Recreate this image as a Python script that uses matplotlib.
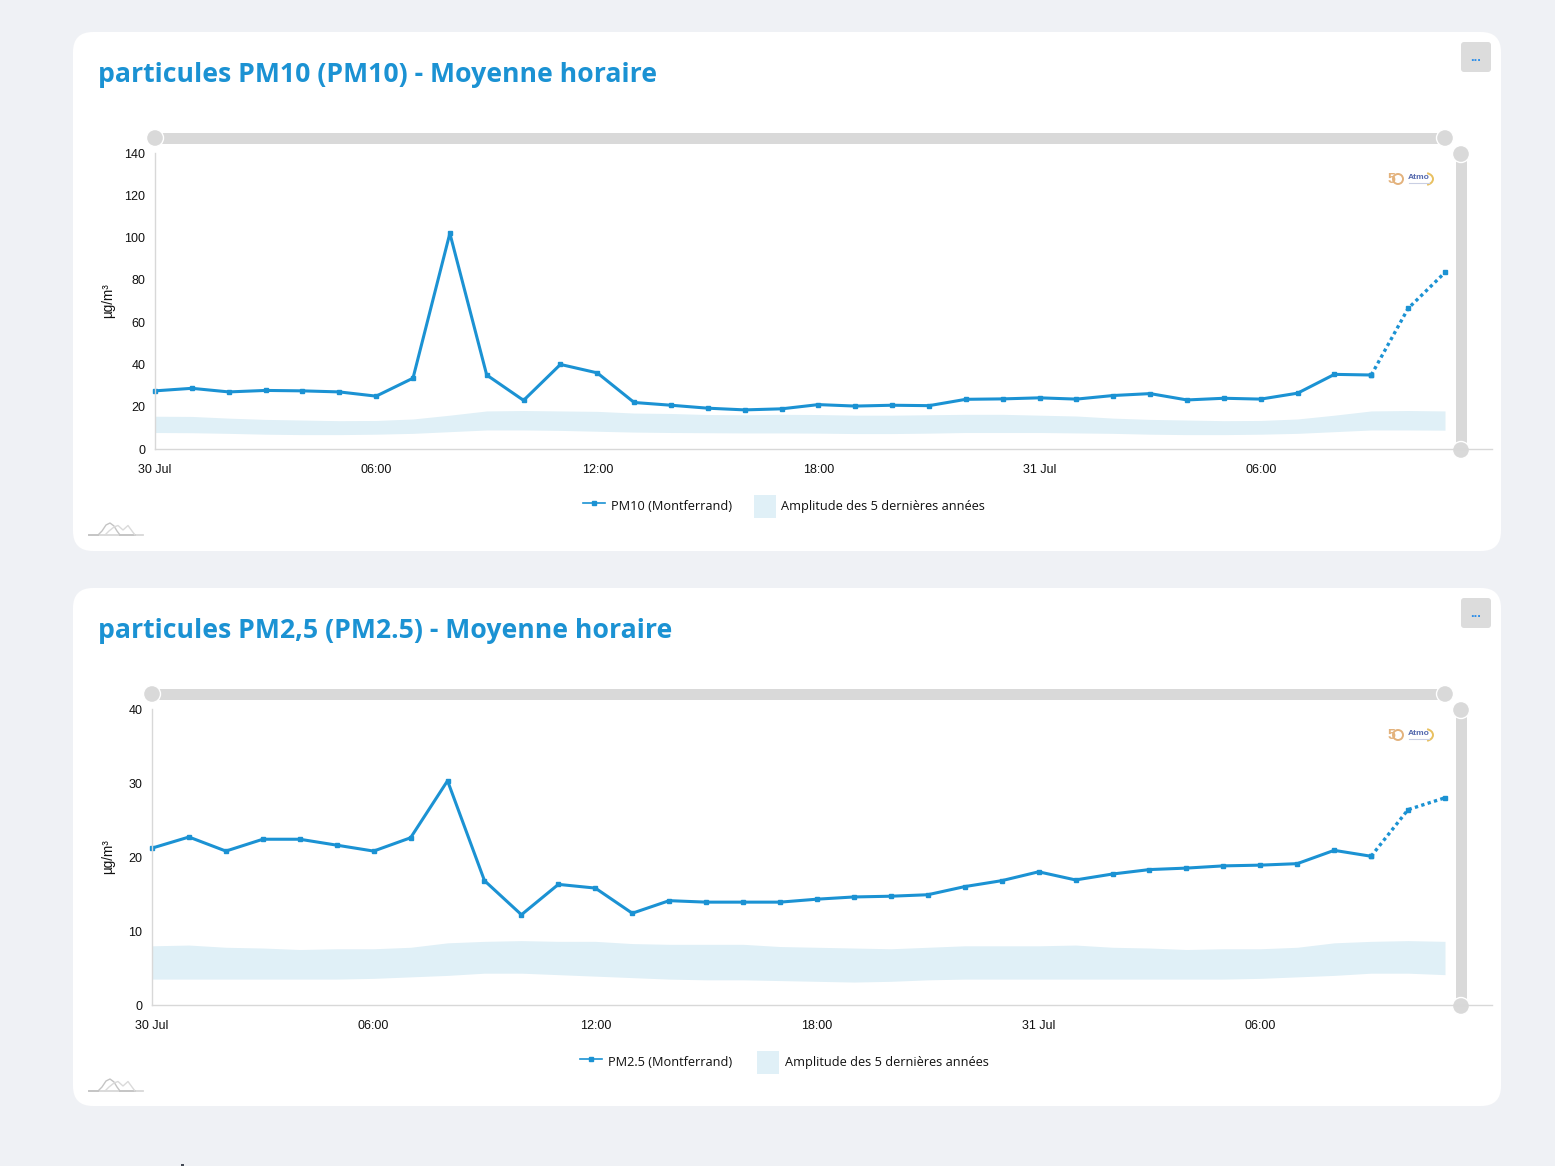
import matplotlib
matplotlib.use("Agg")
import matplotlib.pyplot as plt
from matplotlib.lines import Line2D
from matplotlib.patches import Arc, Circle, FancyBboxPatch, Patch, Rectangle

W, H = 1555, 1166
BLUE = "#1b92d3"
BAND = "#e0f0f7"
PAGE = "#eff1f5"
SLIDER = "#d9d9d9"
TITLE_FONT = ["Open Sans", "DejaVu Sans"]
LEGEND_FONT = ["Open Sans", "DejaVu Sans"]
TICK_FONT = ["Liberation Sans", "DejaVu Sans"]

hours = list(range(36))
x_tick_positions = [0, 6, 12, 18, 24, 30]
x_tick_labels = ["30 Jul", "06:00", "12:00", "18:00", "31 Jul", "06:00"]

pm10_values = [27.5, 28.7, 27, 27.7, 27.5, 27, 25, 33.5, 102, 35, 23, 40, 36, 22, 20.7, 19.3, 18.5, 19,
               21, 20.3, 20.7, 20.5, 23.5, 23.7, 24.2, 23.6, 25.3, 26.2, 23.2, 24, 23.6, 26.4, 35.3, 35, 66.5, 83.5]
pm10_upper = [15.5, 15.4, 14.6, 14, 13.7, 13.4, 13.5, 14.2, 16, 18, 18.2, 18, 17.8, 17, 16.8, 16.3, 16.2, 16.4,
              16.3, 16, 16, 16.2, 16.4, 16.4, 16, 15.6, 14.6, 14, 13.7, 13.4, 13.5, 14.2, 16, 18, 18.2, 18]
pm10_lower = [7.8, 7.7, 7.4, 7, 6.8, 6.8, 7, 7.4, 8.2, 9, 9, 8.8, 8.4, 8, 7.8, 7.7, 7.6, 7.6,
              7.5, 7.3, 7.3, 7.5, 7.8, 7.8, 7.8, 7.6, 7.4, 7, 6.8, 6.8, 7, 7.4, 8.2, 9, 9, 8.9]

pm25_values = [21.2, 22.7, 20.8, 22.4, 22.4, 21.6, 20.8, 22.6, 30.3, 16.8, 12.2, 16.3, 15.8, 12.4, 14.1, 13.9, 13.9, 13.9,
               14.3, 14.6, 14.7, 14.9, 16, 16.8, 18, 16.9, 17.7, 18.3, 18.5, 18.8, 18.9, 19.1, 20.9, 20.1, 26.4, 28]
pm25_upper = [8, 8.1, 7.8, 7.7, 7.5, 7.6, 7.6, 7.8, 8.4, 8.6, 8.7, 8.6, 8.6, 8.3, 8.2, 8.2, 8.2, 7.9,
              7.8, 7.7, 7.6, 7.8, 8, 8, 8, 8.1, 7.8, 7.7, 7.5, 7.6, 7.6, 7.8, 8.4, 8.6, 8.7, 8.6]
pm25_lower = [3.5, 3.5, 3.5, 3.5, 3.5, 3.5, 3.6, 3.8, 4, 4.3, 4.3, 4.1, 3.9, 3.7, 3.5, 3.4, 3.4, 3.3,
              3.2, 3.1, 3.2, 3.4, 3.5, 3.5, 3.5, 3.5, 3.5, 3.5, 3.5, 3.5, 3.6, 3.8, 4, 4.3, 4.3, 4.1]

pm10_y_ticks = [0, 20, 40, 60, 80, 100, 120, 140]
pm25_y_ticks = [0, 10, 20, 30, 40]
last_solid = 33


def pt(px):
    return px * 0.72


fig = plt.figure(figsize=(W / 100, H / 100), dpi=100, facecolor=PAGE)
page = fig.add_axes([0, 0, 1, 1], zorder=0)
page.set_xlim(0, W)
page.set_ylim(H, 0)
page.axis("off")


def card(top, bottom, title, left, series, upper, lower, y_ticks, ymax, name, leg_x, col_space):
    page.add_patch(FancyBboxPatch((73 + 20, top + 20), 1428 - 40, bottom - top - 40,
                                  boxstyle="round,pad=20,rounding_size=20", fc="white", ec="none"))
    page.text(98, top + 43, title, color=BLUE, fontsize=pt(26.6), fontweight="bold",
              family=TITLE_FONT, va="center", ha="left")
    page.add_patch(FancyBboxPatch((1463, top + 12), 26, 26, boxstyle="round,pad=2,rounding_size=3",
                                  fc="#dcdcdc", ec="none"))
    page.text(1476, top + 26, "...", color="#2f8fe8", fontsize=pt(13), ha="center", va="center",
              family=TICK_FONT, fontweight="bold")
    # range sliders
    page.add_patch(Rectangle((left, top + 101), 1445 - left, 11, fc=SLIDER, ec="none"))
    page.add_patch(Rectangle((1456, top + 122), 11, 296, fc=SLIDER, ec="none"))
    for cx, cy in [(left, top + 106), (1445, top + 106), (1461, top + 122), (1461, top + 418)]:
        page.add_patch(Circle((cx, cy), 8.5, fc=SLIDER, ec="white", lw=1, zorder=4))
    # logo
    page.text(1391, top + 147, "5", color="#e3b27c", fontsize=pt(14), fontweight="bold",
              family=TICK_FONT, ha="center", va="center")
    page.add_patch(Circle((1398, top + 147), 5, fc="none", ec="#e3b27c", lw=1.4))
    page.text(1419, top + 145.5, "Atmo", color="#5468ad", fontsize=pt(8.5), fontweight="bold",
              family=TICK_FONT, ha="center", va="center")
    page.add_patch(Arc((1425, top + 147), 16, 12, theta1=-70, theta2=70, ec="#e8c060", lw=1.4))
    page.plot([1409, 1429], [top + 151, top + 151], color="#c9cfe3", lw=0.8)
    # mini navigator icon
    ic = top + 503
    page.plot([89, 143], [ic, ic], color="#d8d8d8", lw=1.3)
    page.plot([89, 98], [ic, ic], color="#c4c4c4", lw=1.3)
    page.plot([120, 135], [ic, ic], color="#c4c4c4", lw=1.3)
    page.plot([98, 102, 106, 110, 114, 117, 120], [ic, ic - 4, ic - 10, ic - 12, ic - 9, ic - 4, ic],
              color="#c4c4c4", lw=1)
    page.plot([105, 109, 114, 118, 123, 128, 132, 135], [ic, ic - 4, ic - 8, ic - 9.5, ic - 5, ic - 9.5, ic - 4, ic],
              color="#dadada", lw=1)
    # top of the next block, cut by the page edge
    page.add_patch(Rectangle((181, 1164), 3, 2, fc="#444a55", ec="none"))

    ax = fig.add_axes([left / W, 1 - (top + 417) / H, (1492 - left) / W, 296 / H], zorder=2)
    ax.patch.set_alpha(0)
    step = (1445 - left) / 35
    ax.set_xlim(0, (1492 - left) / step)
    ax.set_ylim(0, ymax)
    ax.fill_between(hours, lower, upper, color=BAND, lw=0, label="Amplitude des 5 dernières années")
    ax.plot(hours[:last_solid + 1], series[:last_solid + 1], color=BLUE, lw=2.2, marker="s", ms=3.2, clip_on=False)
    ax.plot(hours[last_solid:], series[last_solid:], color=BLUE, lw=2.4, ls=(0, (1, 1)), marker="s", ms=3.2, clip_on=False)
    for s in ("top", "right"):
        ax.spines[s].set_visible(False)
    for s in ("left", "bottom"):
        ax.spines[s].set_color("#d8d8d8")
        ax.spines[s].set_linewidth(1)
    ax.set_xticks(x_tick_positions, x_tick_labels)
    ax.set_yticks(y_ticks)
    ax.tick_params(length=0, labelsize=pt(12.5), colors="#111111")
    ax.tick_params(axis="x", pad=10.5)
    ax.tick_params(axis="y", pad=7)
    for lab in ax.get_xticklabels() + ax.get_yticklabels():
        lab.set_family(TICK_FONT)
    ax.set_ylabel("µg/m³", fontsize=pt(13.5), family=TICK_FONT, color="#111111")
    ax.yaxis.set_label_coords((115 - left) / (1492 - left), 0.5)

    handles = [Line2D([], [], color=BLUE, lw=1.2, marker="s", ms=3.2),
               Patch(fc=BAND, ec="none")]
    leg = ax.legend(handles, [name, "Amplitude des 5 dernières années"], loc="center left",
                    bbox_to_anchor=(leg_x / W, 1 - (top + 474.5) / H), bbox_transform=fig.transFigure,
                    frameon=False, ncol=2, prop={"family": LEGEND_FONT, "size": pt(12.8)},
                    handlelength=1.72, handleheight=2.4, handletextpad=0.45, columnspacing=col_space,
                    borderpad=0, borderaxespad=0)
    for t in leg.get_texts():
        t.set_color("#111111")
    return ax


card(32, 551, "particules PM10 (PM10) - Moyenne horaire", 155, pm10_values, pm10_upper, pm10_lower,
     pm10_y_ticks, 140, "PM10 (Montferrand)", 583, 1.7)
card(588, 1106, "particules PM2,5 (PM2.5) - Moyenne horaire", 152, pm25_values, pm25_upper, pm25_lower,
     pm25_y_ticks, 40, "PM2.5 (Montferrand)", 580, 1.93)

fig.savefig("out.png", dpi=100, facecolor=PAGE)
